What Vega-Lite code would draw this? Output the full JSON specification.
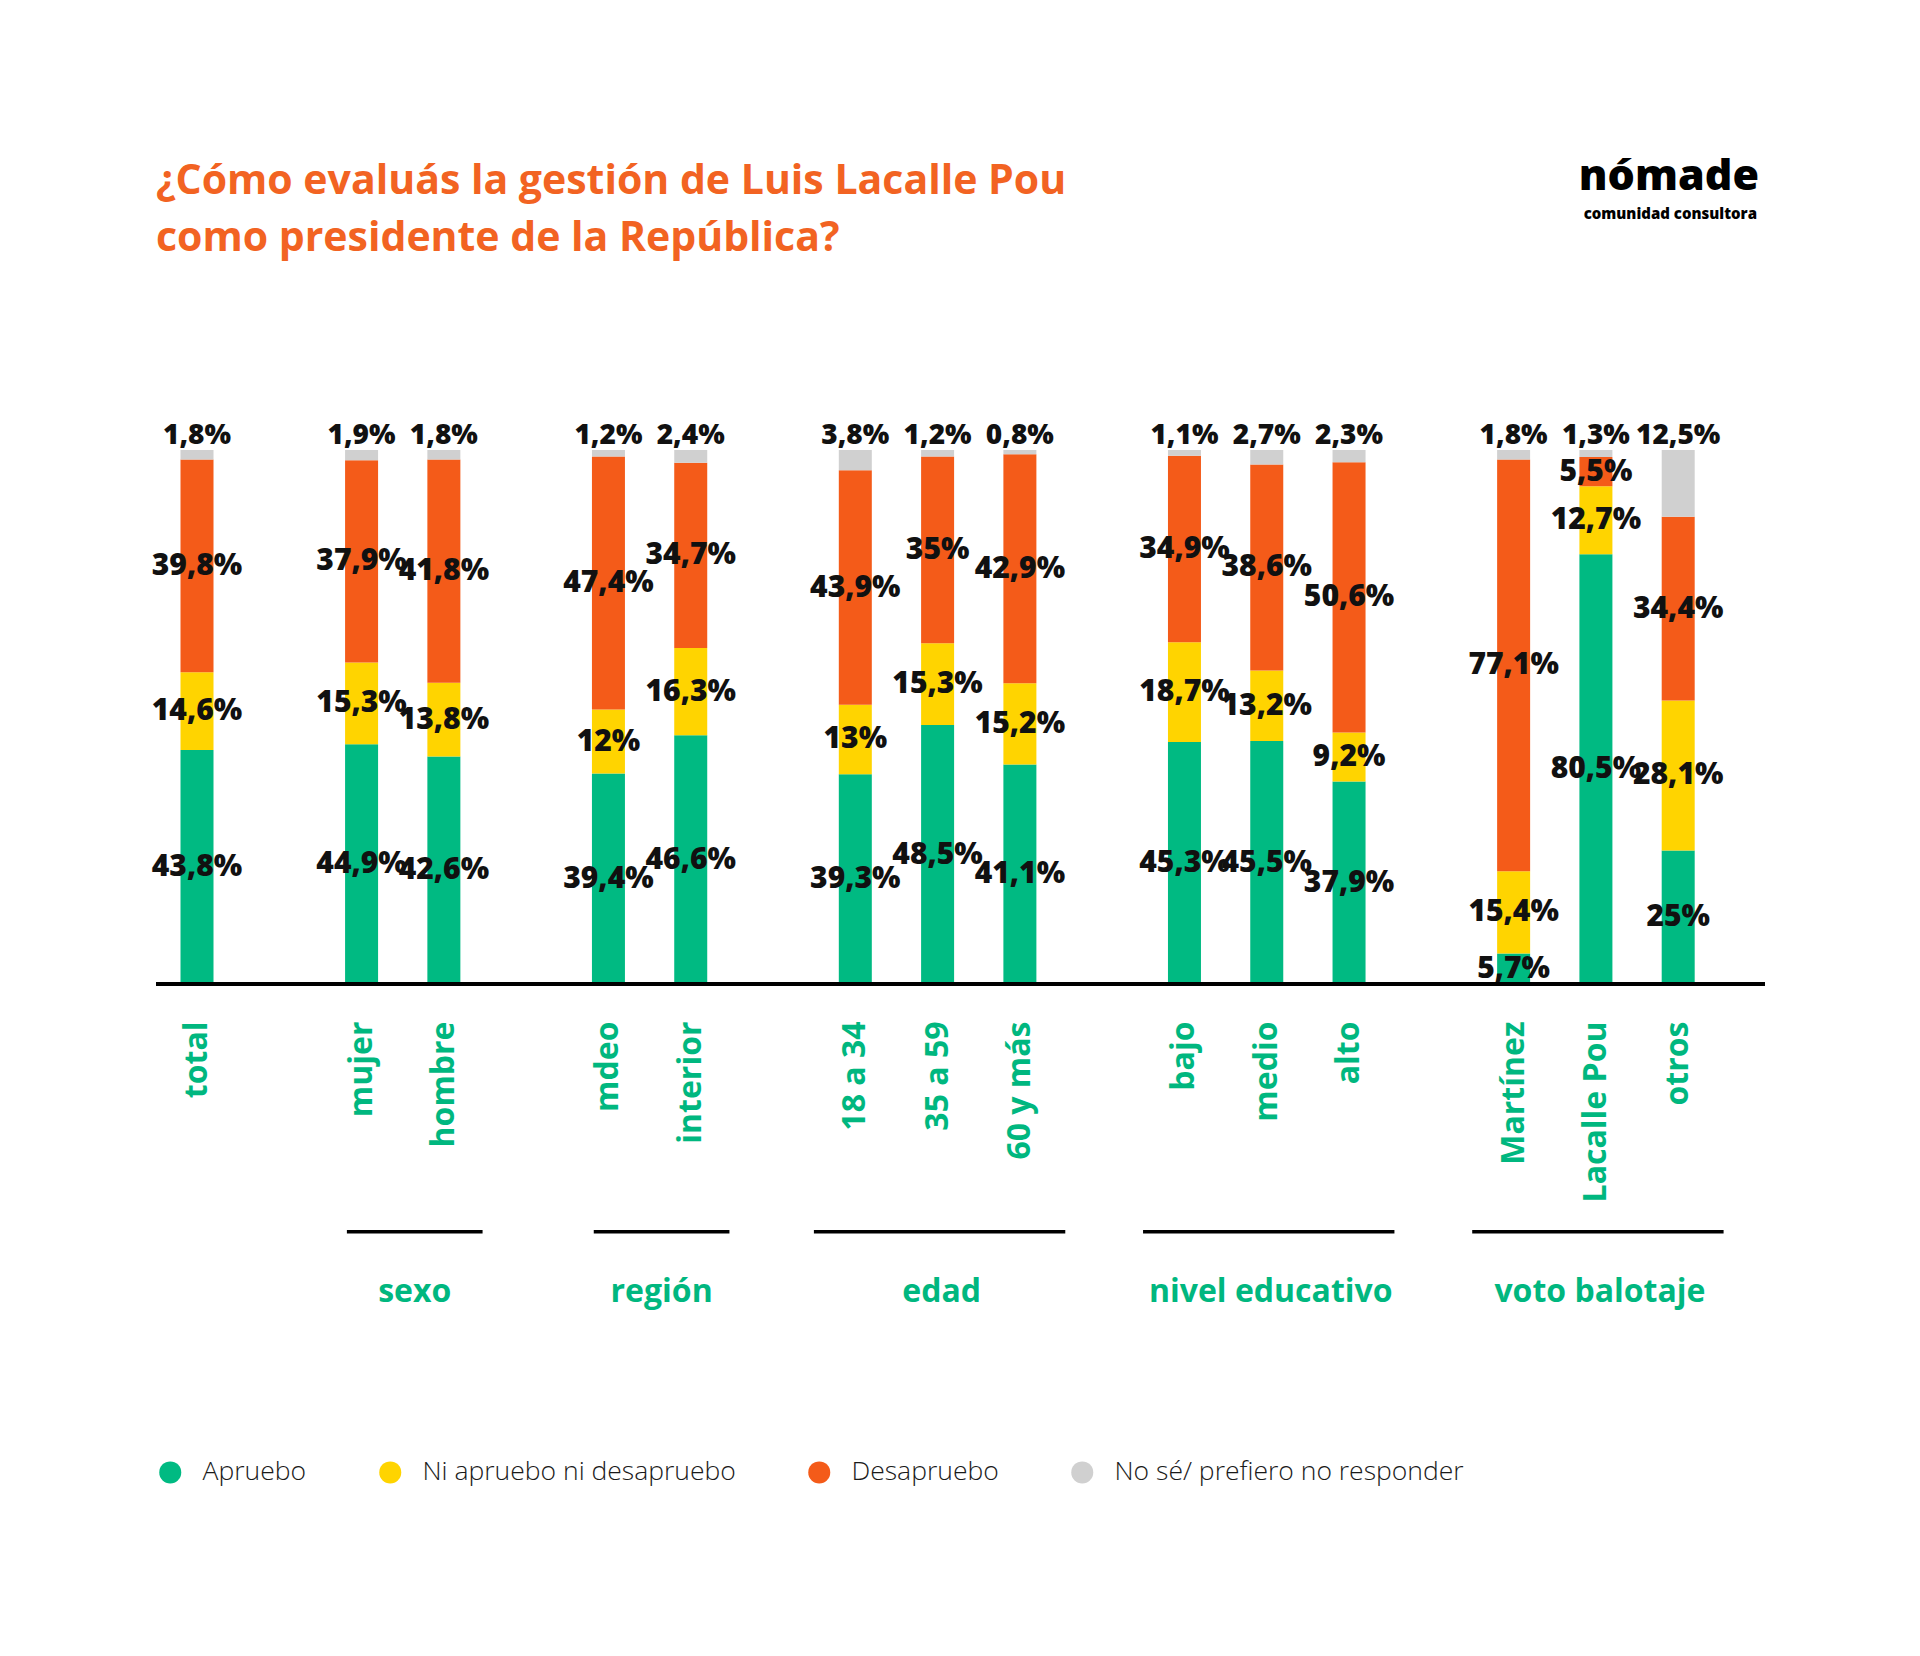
{
  "$schema": "https://vega.github.io/schema/vega-lite/v6.json",
  "width": 1609,
  "height": 534,
  "autosize": {"type": "none"},
  "padding": {"left": 156, "top": 450, "right": 155, "bottom": 672},
  "background": "white",
  "title": {
    "text": ["¿Cómo evaluás la gestión de Luis Lacalle Pou", "como presidente de la República?"],
    "anchor": "start",
    "frame": "group",
    "font": "Open Sans",
    "fontSize": 41,
    "fontWeight": 700,
    "color": "#F26322",
    "lineHeight": 57,
    "offset": -104
  },
  "data": {
    "values": [
      {"cat": "total", "resp": "Apruebo", "v": 0.438},
      {"cat": "total", "resp": "Ni apruebo ni desapruebo", "v": 0.146},
      {"cat": "total", "resp": "Desapruebo", "v": 0.398},
      {"cat": "total", "resp": "No sé/ prefiero no responder", "v": 0.018},
      {"cat": "mujer", "resp": "Apruebo", "v": 0.449},
      {"cat": "mujer", "resp": "Ni apruebo ni desapruebo", "v": 0.153},
      {"cat": "mujer", "resp": "Desapruebo", "v": 0.379},
      {"cat": "mujer", "resp": "No sé/ prefiero no responder", "v": 0.019},
      {"cat": "hombre", "resp": "Apruebo", "v": 0.426},
      {"cat": "hombre", "resp": "Ni apruebo ni desapruebo", "v": 0.138},
      {"cat": "hombre", "resp": "Desapruebo", "v": 0.418},
      {"cat": "hombre", "resp": "No sé/ prefiero no responder", "v": 0.018},
      {"cat": "mdeo", "resp": "Apruebo", "v": 0.394},
      {"cat": "mdeo", "resp": "Ni apruebo ni desapruebo", "v": 0.12},
      {"cat": "mdeo", "resp": "Desapruebo", "v": 0.474},
      {"cat": "mdeo", "resp": "No sé/ prefiero no responder", "v": 0.012},
      {"cat": "interior", "resp": "Apruebo", "v": 0.466},
      {"cat": "interior", "resp": "Ni apruebo ni desapruebo", "v": 0.163},
      {"cat": "interior", "resp": "Desapruebo", "v": 0.347},
      {"cat": "interior", "resp": "No sé/ prefiero no responder", "v": 0.024},
      {"cat": "18 a 34", "resp": "Apruebo", "v": 0.393},
      {"cat": "18 a 34", "resp": "Ni apruebo ni desapruebo", "v": 0.13},
      {"cat": "18 a 34", "resp": "Desapruebo", "v": 0.439},
      {"cat": "18 a 34", "resp": "No sé/ prefiero no responder", "v": 0.038},
      {"cat": "35 a 59", "resp": "Apruebo", "v": 0.485},
      {"cat": "35 a 59", "resp": "Ni apruebo ni desapruebo", "v": 0.153},
      {"cat": "35 a 59", "resp": "Desapruebo", "v": 0.35},
      {"cat": "35 a 59", "resp": "No sé/ prefiero no responder", "v": 0.012},
      {"cat": "60 y más", "resp": "Apruebo", "v": 0.411},
      {"cat": "60 y más", "resp": "Ni apruebo ni desapruebo", "v": 0.152},
      {"cat": "60 y más", "resp": "Desapruebo", "v": 0.429},
      {"cat": "60 y más", "resp": "No sé/ prefiero no responder", "v": 0.008},
      {"cat": "bajo", "resp": "Apruebo", "v": 0.453},
      {"cat": "bajo", "resp": "Ni apruebo ni desapruebo", "v": 0.187},
      {"cat": "bajo", "resp": "Desapruebo", "v": 0.349},
      {"cat": "bajo", "resp": "No sé/ prefiero no responder", "v": 0.011},
      {"cat": "medio", "resp": "Apruebo", "v": 0.455},
      {"cat": "medio", "resp": "Ni apruebo ni desapruebo", "v": 0.132},
      {"cat": "medio", "resp": "Desapruebo", "v": 0.386},
      {"cat": "medio", "resp": "No sé/ prefiero no responder", "v": 0.027},
      {"cat": "alto", "resp": "Apruebo", "v": 0.379},
      {"cat": "alto", "resp": "Ni apruebo ni desapruebo", "v": 0.092},
      {"cat": "alto", "resp": "Desapruebo", "v": 0.506},
      {"cat": "alto", "resp": "No sé/ prefiero no responder", "v": 0.023},
      {"cat": "Martínez", "resp": "Apruebo", "v": 0.057},
      {"cat": "Martínez", "resp": "Ni apruebo ni desapruebo", "v": 0.154},
      {"cat": "Martínez", "resp": "Desapruebo", "v": 0.771},
      {"cat": "Martínez", "resp": "No sé/ prefiero no responder", "v": 0.018},
      {"cat": "Lacalle Pou", "resp": "Apruebo", "v": 0.805},
      {"cat": "Lacalle Pou", "resp": "Ni apruebo ni desapruebo", "v": 0.127},
      {"cat": "Lacalle Pou", "resp": "Desapruebo", "v": 0.055},
      {"cat": "Lacalle Pou", "resp": "No sé/ prefiero no responder", "v": 0.013},
      {"cat": "otros", "resp": "Apruebo", "v": 0.25},
      {"cat": "otros", "resp": "Ni apruebo ni desapruebo", "v": 0.281},
      {"cat": "otros", "resp": "Desapruebo", "v": 0.344},
      {"cat": "otros", "resp": "No sé/ prefiero no responder", "v": 0.125}
    ]
  },
  "layer": [
    {
      "transform": [
        {"calculate": "indexof(['Apruebo','Ni apruebo ni desapruebo','Desapruebo','No sé/ prefiero no responder'], datum.resp)", "as": "o"}
      ],
      "mark": {"type": "bar", "width": 33},
      "encoding": {
        "x": {
          "field": "cat",
          "type": "nominal",
          "title": null,
          "scale": {
            "domain": ["total", " ", "mujer", "hombre", "  ", "mdeo", "interior", "   ", "18 a 34", "35 a 59", "60 y más", "    ", "bajo", "medio", "alto", "     ", "Martínez", "Lacalle Pou", "otros"],
            "range": [12.2, 1551],
            "paddingInner": 0.3,
            "paddingOuter": 0
          },
          "axis": {
            "labelAngle": -90,
            "domain": false,
            "ticks": false,
            "tickSize": 0,
            "labelPadding": 37,
            "labelFont": "Open Sans",
            "labelFontSize": 32,
            "labelFontWeight": 700,
            "labelColor": "#00B77F",
            "labelLimit": 400
          }
        },
        "y": {
          "field": "v",
          "type": "quantitative",
          "stack": "zero",
          "scale": {"domain": [0, 1], "nice": false},
          "axis": null
        },
        "color": {
          "field": "resp",
          "type": "nominal",
          "scale": {
            "domain": ["Apruebo", "Ni apruebo ni desapruebo", "Desapruebo", "No sé/ prefiero no responder"],
            "range": ["#00BA82", "#FFD400", "#F45B19", "#D0D0D0"]
          },
          "legend": {
            "title": null,
            "orient": "none",
            "legendX": 1,
            "legendY": 1009,
            "direction": "horizontal",
            "columns": 4,
            "padding": 0,
            "symbolType": "circle",
            "symbolSize": 484,
            "symbolStrokeWidth": 0,
            "labelFont": "Open Sans",
            "labelFontSize": 26.5,
            "labelFontWeight": 300,
            "labelColor": "#1A1A1A",
            "labelOffset": 19,
            "columnPadding": 70,
            "labelLimit": 500
          }
        },
        "order": {"field": "o", "type": "quantitative"}
      }
    },
    {
      "transform": [
        {"calculate": "indexof(['Apruebo','Ni apruebo ni desapruebo','Desapruebo','No sé/ prefiero no responder'], datum.resp)", "as": "o"},
        {"filter": "datum.resp !== 'No sé/ prefiero no responder'"}
      ],
      "mark": {"type": "text", "font": "Open Sans", "fontSize": 30, "fontWeight": 800, "color": "#111111", "baseline": "middle"},
      "encoding": {
        "x": {"field": "cat", "type": "nominal"},
        "y": {"field": "v", "type": "quantitative", "stack": "zero", "bandPosition": 0.5},
        "detail": {"field": "resp"},
        "order": {"field": "o", "type": "quantitative"},
        "text": {"field": "v", "type": "quantitative", "format": ".1~%"}
      }
    },
    {
      "transform": [
        {"filter": "datum.resp === 'No sé/ prefiero no responder'"}
      ],
      "mark": {"type": "text", "font": "Open Sans", "fontSize": 28, "fontWeight": 800, "color": "#111111", "baseline": "bottom", "dy": 0},
      "encoding": {
        "x": {"field": "cat", "type": "nominal"},
        "y": {"datum": 1},
        "text": {"field": "v", "type": "quantitative", "format": ".1~%"}
      }
    },
    {
      "data": {"values": [{}]},
      "mark": {"type": "rule", "color": "#000000", "strokeWidth": 4},
      "encoding": {"y": {"datum": 0}}
    },
    {
      "data": {
        "values": [
          {"g": "sexo", "a": "mujer", "b": "hombre", "n": 2},
          {"g": "región", "a": "mdeo", "b": "interior", "n": 2},
          {"g": "edad", "a": "18 a 34", "b": "60 y más", "n": 3},
          {"g": "nivel educativo", "a": "bajo", "b": "alto", "n": 3},
          {"g": "voto balotaje", "a": "Martínez", "b": "otros", "n": 3}
        ]
      },
      "layer": [
        {
          "transform": [{"filter": "datum.n === 2"}],
          "mark": {"type": "rule", "color": "#000000", "strokeWidth": 3.5},
          "encoding": {
            "x": {"field": "a", "type": "nominal", "bandPosition": 0.245},
            "x2": {"field": "b", "bandPosition": 1.172},
            "y": {"datum": -0.464}
          }
        },
        {
          "transform": [{"filter": "datum.n === 3"}],
          "mark": {"type": "rule", "color": "#000000", "strokeWidth": 3.5},
          "encoding": {
            "x": {"field": "a", "type": "nominal", "bandPosition": -0.219},
            "x2": {"field": "b", "bandPosition": 1.288},
            "y": {"datum": -0.464}
          }
        },
        {
          "transform": [{"filter": "datum.n === 2"}],
          "mark": {"type": "text", "font": "Open Sans", "fontSize": 32, "fontWeight": 700, "color": "#00B77F", "baseline": "middle"},
          "encoding": {
            "x": {"field": "a", "type": "nominal", "bandPosition": 1.423},
            "y": {"datum": -0.577},
            "text": {"field": "g"}
          }
        },
        {
          "transform": [{"filter": "datum.n === 3"}],
          "mark": {"type": "text", "font": "Open Sans", "fontSize": 32, "fontWeight": 700, "color": "#00B77F", "baseline": "middle"},
          "encoding": {
            "x": {"field": "a", "type": "nominal", "bandPosition": 1.998},
            "y": {"datum": -0.577},
            "text": {"field": "g"}
          }
        }
      ]
    },
    {
      "data": {"values": [{"t": "nómade", "s": "comunidad consultora"}]},
      "layer": [
        {
          "mark": {"type": "text", "font": "Open Sans", "fontSize": 43, "fontWeight": 800, "color": "#000000", "align": "right", "baseline": "alphabetic", "dx": -6},
          "encoding": {
            "x": {"value": "width"},
            "y": {"datum": 1.487},
            "text": {"field": "t"}
          }
        },
        {
          "mark": {"type": "text", "font": "Open Sans", "fontSize": 15, "fontWeight": 800, "color": "#000000", "align": "right", "baseline": "alphabetic", "dx": -8},
          "encoding": {
            "x": {"value": "width"},
            "y": {"datum": 1.432},
            "text": {"field": "s"}
          }
        }
      ]
    }
  ],
  "config": {
    "locale": {
      "number": {"decimal": ",", "thousands": ".", "grouping": [3], "currency": ["", " €"]}
    },
    "view": {"stroke": null},
    "font": "Open Sans"
  }
}
